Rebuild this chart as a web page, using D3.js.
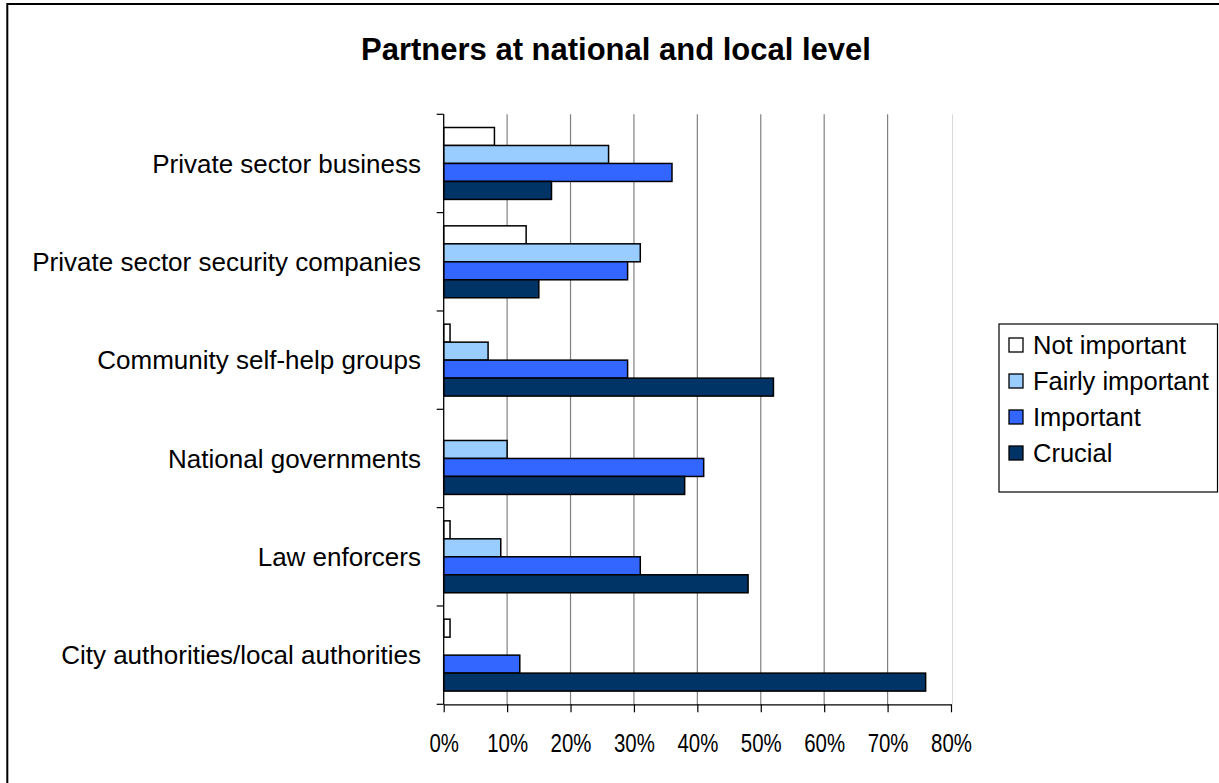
<!DOCTYPE html>
<html>
<head>
<meta charset="utf-8">
<script src="https://cdn.jsdelivr.net/npm/d3@7"></script>
<style>
  html, body { margin: 0; padding: 0; background: #fff; }
  svg { display: block; }
</style>
</head>
<body>
<svg id="chart" width="1219" height="783"></svg>
<script>
// Survey answers: share of respondents rating each partner (percent)
const categories = [
  "Private sector business",
  "Private sector security companies",
  "Community self-help groups",
  "National governments",
  "Law enforcers",
  "City authorities/local authorities"
];
const seriesNames = ["Not important", "Fairly important", "Important", "Crucial"];
const notImportant    = [8, 13, 1, 0, 1, 1];
const fairlyImportant = [26, 31, 7, 10, 9, 0];
const important       = [36, 29, 29, 41, 31, 12];
const crucial         = [17, 15, 52, 38, 48, 76];
const xTicks = [0, 10, 20, 30, 40, 50, 60, 70, 80];
const titleText = "Partners at national and local level";

const seriesValues = [notImportant, fairlyImportant, important, crucial];
const seriesColors = ["#FFFFFF", "#99CCFF", "#3366FF", "#003366"];

const svg = d3.select("#chart");
const plot = { left: 443.7, right: 951, top: 114.3, bottom: 704.3 };

// Outer chart frame (runs past the right and bottom edges)
svg.append("rect")
  .attr("x", 7.3).attr("y", 4)
  .attr("width", 1300).attr("height", 900)
  .attr("fill", "#fff").attr("stroke", "#000").attr("stroke-width", 2);

// Title
svg.append("text")
  .attr("x", 361).attr("y", 60)
  .attr("font-family", "Liberation Sans, Arial, sans-serif")
  .attr("font-weight", "bold")
  .attr("font-size", 31)
  .attr("fill", "#000")
  .text(titleText);

const x = d3.scaleLinear().domain([0, 80]).range([plot.left, plot.right]);
const y = d3.scaleBand().domain(categories).range([plot.top, plot.bottom]).padding(0);
const groupPad = 13.2;
const ySub = d3.scaleBand().domain(seriesNames)
  .range([groupPad, y.bandwidth() - groupPad]).padding(0);

// Plot area right edge
svg.append("line")
  .attr("x1", plot.right + 1.5).attr("x2", plot.right + 1.5)
  .attr("y1", plot.top).attr("y2", plot.bottom)
  .attr("stroke", "#d9d9d9").attr("stroke-width", 1);

// Vertical gridlines
svg.append("g")
  .selectAll("line")
  .data(xTicks.filter(t => t > 0 && t < 80))
  .join("line")
  .attr("x1", d => x(d)).attr("x2", d => x(d))
  .attr("y1", plot.top).attr("y2", plot.bottom)
  .attr("stroke", "#808080").attr("stroke-width", 1.2);

// Bars
const rows = [];
categories.forEach((c, ci) => {
  seriesNames.forEach((s, si) => {
    rows.push({ category: c, series: s, value: seriesValues[si][ci], color: seriesColors[si] });
  });
});
svg.append("g")
  .selectAll("rect")
  .data(rows.filter(d => d.value > 0))
  .join("rect")
  .attr("x", x(0))
  .attr("y", d => y(d.category) + ySub(d.series))
  .attr("width", d => x(d.value) - x(0))
  .attr("height", ySub.bandwidth())
  .attr("fill", d => d.color)
  .attr("stroke", "#000")
  .attr("stroke-width", 1.5);

// X axis
const xAxis = svg.append("g")
  .attr("transform", `translate(0,${plot.bottom})`)
  .call(d3.axisBottom(x).tickValues(xTicks).tickFormat(d => d + "%").tickSizeInner(8).tickSizeOuter(0));
xAxis.select(".domain").attr("stroke", "#000").attr("stroke-width", 1.3);
xAxis.selectAll(".tick line").attr("stroke", "#000").attr("stroke-width", 1.2);
// condensed percentage labels
xAxis.selectAll(".tick text")
  .attr("font-family", "Liberation Sans, Arial, sans-serif")
  .attr("font-size", 25.5)
  .attr("fill", "#000")
  .attr("dy", null)
  .attr("y", 47.5)
  .attr("transform", "scale(0.8,1)");

// Y axis: ticks at category boundaries, labels at band centres
const yAxisG = svg.append("g");
yAxisG.append("line")
  .attr("x1", plot.left).attr("x2", plot.left)
  .attr("y1", plot.top).attr("y2", plot.bottom)
  .attr("stroke", "#000").attr("stroke-width", 1.3);
const boundaries = categories.map(c => y(c)).concat([plot.bottom]);
yAxisG.selectAll("line.tick")
  .data(boundaries)
  .join("line")
  .attr("class", "tick")
  .attr("x1", plot.left - 7).attr("x2", plot.left)
  .attr("y1", d => d).attr("y2", d => d)
  .attr("stroke", "#000").attr("stroke-width", 1.2);
yAxisG.selectAll("text")
  .data(categories)
  .join("text")
  .attr("x", 421)
  .attr("y", d => y(d) + y.bandwidth() / 2 + 9.3)
  .attr("text-anchor", "end")
  .attr("font-family", "Liberation Sans, Arial, sans-serif")
  .attr("font-size", 26)
  .attr("fill", "#000")
  .text(d => d);

// Legend
const legend = svg.append("g");
legend.append("rect")
  .attr("x", 999).attr("y", 324)
  .attr("width", 218.5).attr("height", 168)
  .attr("fill", "#fff").attr("stroke", "#000").attr("stroke-width", 1.2);
const rowY = d3.scalePoint().domain(seriesNames).range([345, 453]);
const items = legend.selectAll("g.item")
  .data(seriesNames)
  .join("g")
  .attr("class", "item")
  .attr("transform", d => `translate(0,${rowY(d)})`);
items.append("rect")
  .attr("x", 1009).attr("y", -7)
  .attr("width", 14).attr("height", 14)
  .attr("fill", (d, i) => seriesColors[i])
  .attr("stroke", "#000").attr("stroke-width", 1.3);
items.append("text")
  .attr("x", 1033).attr("y", 9)
  .attr("font-family", "Liberation Sans, Arial, sans-serif")
  .attr("font-size", 25.5)
  .attr("fill", "#000")
  .text(d => d);
</script>
</body>
</html>
